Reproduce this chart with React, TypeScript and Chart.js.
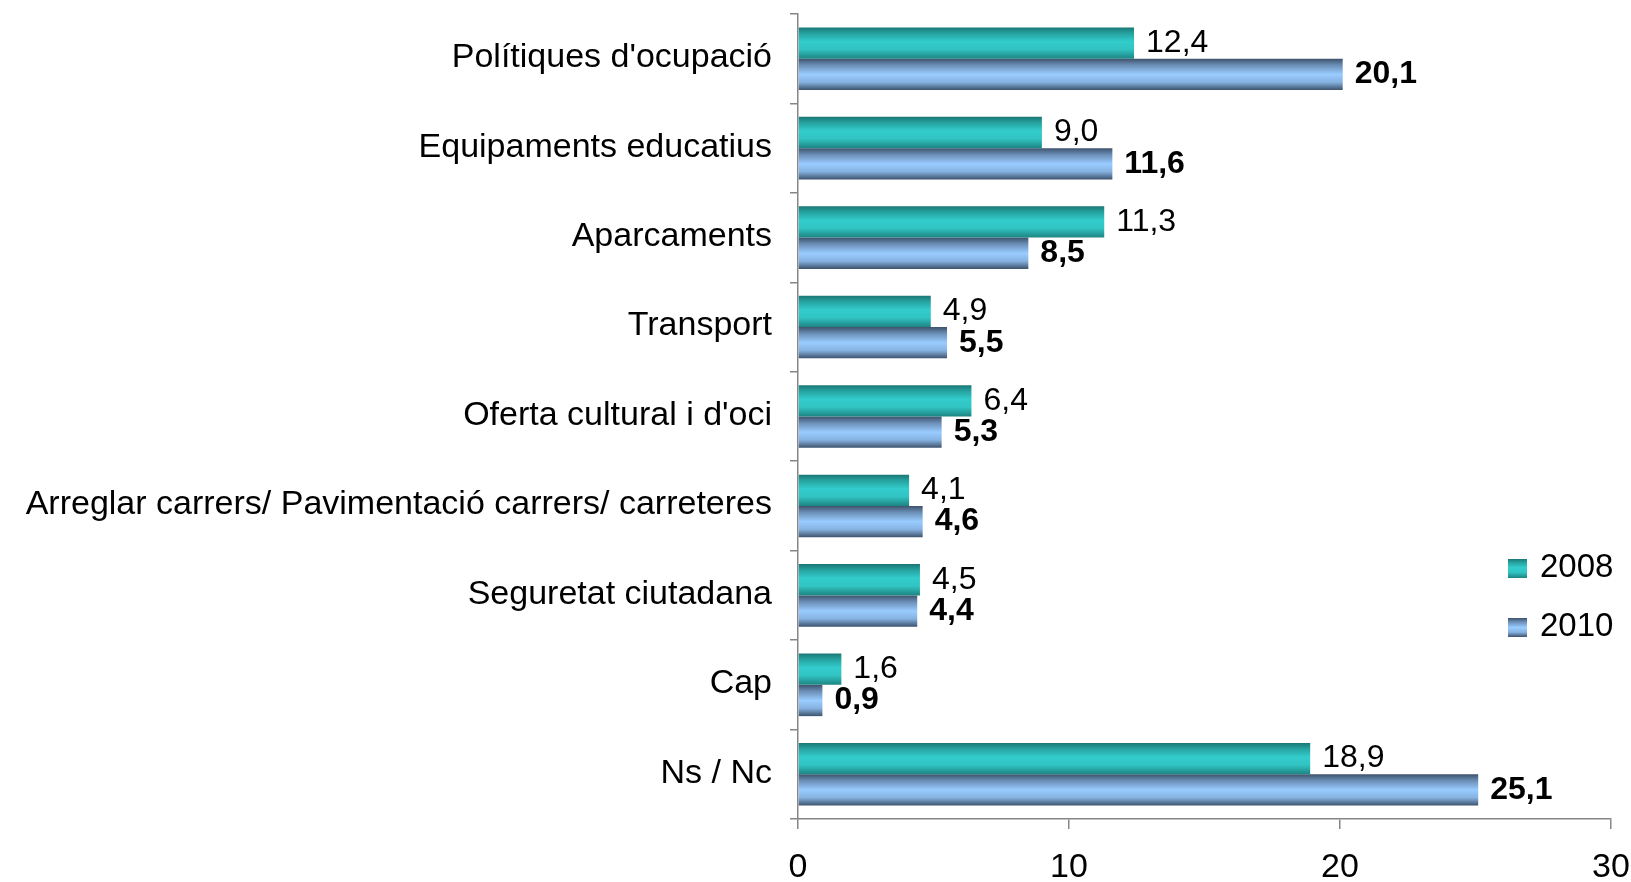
import React, { useEffect, useRef } from "react";
import { Chart, registerables } from "chart.js";

Chart.register(...registerables);

const categories = [
  "Polítiques d'ocupació",
  "Equipaments educatius",
  "Aparcaments",
  "Transport",
  "Oferta cultural i d'oci",
  "Arreglar carrers/ Pavimentació carrers/ carreteres",
  "Seguretat ciutadana",
  "Cap",
  "Ns / Nc",
];
const values2008 = [12.4, 9.0, 11.3, 4.9, 6.4, 4.1, 4.5, 1.6, 18.9];
const values2010 = [20.1, 11.6, 8.5, 5.5, 5.3, 4.6, 4.4, 0.9, 25.1];
const seriesNames = ["2008", "2010"];
const xTicks = [0, 10, 20, 30];

const FONT = "'Liberation Sans', Arial, sans-serif";

const stops2008: [number, string][] = [
  [0, "#1a7775"],
  [0.18, "#25a19e"],
  [0.45, "#33cccc"],
  [0.7, "#31c4c3"],
  [1, "#1d8482"],
];
const stops2010: [number, string][] = [
  [0, "#3d526c"],
  [0.2, "#6a8db5"],
  [0.5, "#99ccff"],
  [0.75, "#86b2e0"],
  [1, "#3d526c"],
];

function makeGradient(ctx: any, stops: [number, string][]) {
  const chart = ctx.chart;
  const area = chart.chartArea;
  if (!area || ctx.type !== "data") return stops[2][1];
  const ys = chart.scales.y;
  const cat = (area.bottom - area.top) / categories.length;
  const thick = (cat * 0.7) / 2;
  const center = ys.getPixelForValue(ctx.dataIndex);
  const top = ctx.datasetIndex === 0 ? center - thick : center;
  const g = chart.ctx.createLinearGradient(0, top, 0, top + thick);
  stops.forEach(([o, c]) => g.addColorStop(o, c));
  return g;
}

function legendGradient(c: CanvasRenderingContext2D, y: number, h: number, stops: [number, string][]) {
  const g = c.createLinearGradient(0, y, 0, y + h);
  stops.forEach(([o, col]) => g.addColorStop(o, col));
  return g;
}

const labelPlugin = {
  id: "valueLabels",
  afterDatasetsDraw(chart: any) {
    const c: CanvasRenderingContext2D = chart.ctx;
    c.save();
    c.fillStyle = "#000";
    c.textBaseline = "middle";
    c.textAlign = "left";
    chart.data.datasets.forEach((ds: any, di: number) => {
      const meta = chart.getDatasetMeta(di);
      c.font = (di === 1 ? "bold " : "") + "32px " + FONT;
      meta.data.forEach((el: any, i: number) => {
        const v = ds.data[i] as number;
        const txt = v.toFixed(1).replace(".", ",");
        c.fillText(txt, el.x + 12, el.y);
      });
    });
    // legend
    const stopsArr = [stops2008, stops2010];
    const ys = [559, 618];
    c.font = "33px " + FONT;
    seriesNames.forEach((name, i) => {
      const y = ys[i];
      c.fillStyle = legendGradient(c, y, 19, stopsArr[i]);
      c.fillRect(1508, y, 19, 19);
      c.fillStyle = "#000";
      c.fillText(name, 1540, y + 9);
    });
    c.restore();
  },
};

export default function App() {
  const ref = useRef<HTMLCanvasElement>(null);
  useEffect(() => {
    if (!ref.current) return;
    const chart = new Chart(ref.current, {
      type: "bar",
      data: {
        labels: categories,
        datasets: [
          {
            label: seriesNames[0],
            data: values2008,
            backgroundColor: (ctx: any) => makeGradient(ctx, stops2008),
            categoryPercentage: 0.7,
            barPercentage: 1,
            borderWidth: 0,
          },
          {
            label: seriesNames[1],
            data: values2010,
            backgroundColor: (ctx: any) => makeGradient(ctx, stops2010),
            categoryPercentage: 0.7,
            barPercentage: 1,
            borderWidth: 0,
          },
        ],
      },
      options: {
        indexAxis: "y",
        responsive: false,
        animation: false,
        devicePixelRatio: 1,
        layout: { padding: { top: 14, right: 20, left: 0, bottom: 0 } },
        plugins: {
          legend: { display: false },
          tooltip: { enabled: false },
        },
        scales: {
          x: {
            type: "linear",
            min: 0,
            max: 30,
            afterBuildTicks: (s: any) => {
              s.ticks = xTicks.map((v) => ({ value: v }));
            },
            afterFit: (s: any) => {
              s.height = 63;
              s.paddingLeft = 0;
              s.paddingRight = 0;
            },
            border: { display: true, color: "#868686", width: 1.5 },
            grid: {
              drawOnChartArea: false,
              drawTicks: true,
              tickLength: 10,
              color: "#868686",
              lineWidth: 1.5,
            },
            ticks: {
              color: "#000",
              font: { family: FONT, size: 34 },
              padding: 18,
              maxRotation: 0,
            },
          },
          y: {
            type: "category",
            afterFit: (s: any) => {
              s.width = 798;
              s.paddingTop = 0;
              s.paddingBottom = 0;
            },
            border: { display: true, color: "#868686", width: 1.5 },
            grid: {
              offset: true,
              drawOnChartArea: false,
              drawTicks: true,
              tickLength: 8,
              color: "#868686",
              lineWidth: 1.5,
            },
            ticks: {
              color: "#000",
              font: { family: FONT, size: 34 },
              padding: 18,
              labelOffset: -1,
              autoSkip: false,
            },
          },
        },
      },
      plugins: [labelPlugin],
    } as any);
    return () => chart.destroy();
  }, []);
  return (
    <div style={{ position: "fixed", left: 0, top: 0, width: 1631, height: 882, background: "#fff" }}>
      <canvas ref={ref} width={1631} height={882} style={{ display: "block" }} />
    </div>
  );
}
